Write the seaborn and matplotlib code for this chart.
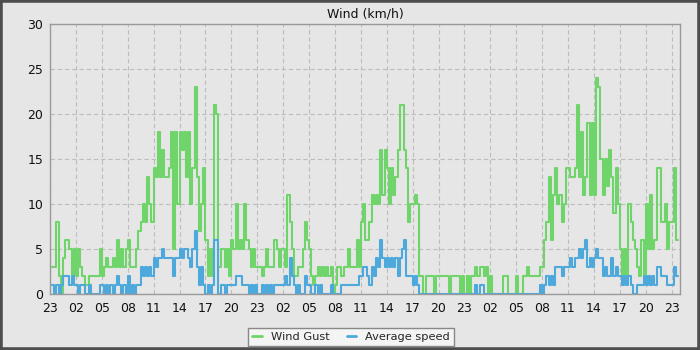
import numpy as np
import pandas as pd
import matplotlib
matplotlib.use("Agg")
import matplotlib.pyplot as plt
import matplotlib.dates as mdates
from matplotlib.ticker import MultipleLocator
from matplotlib.patches import Rectangle
from matplotlib.lines import Line2D
import seaborn as sns

# ---------------- data ----------------
title = "Wind (km/h)"
series_names = ["Wind Gust", "Average speed"]
first_sample = "2024-01-01 23:15"
sample_step = "15min"
axis_start = "2024-01-01 23:00"
axis_end = "2024-01-04 23:58"
y_ticks = [0, 5, 10, 15, 20, 25, 30]

# quarter-hour readings, one row per hour (first row starts 23:15)
wind_gust = [
    3, 3, 8,
    2, 0, 4, 6,   6, 5, 2, 5,   2, 5, 3, 2,   1, 1, 2, 2,   2, 2, 2, 5,
    2, 3, 4, 3,   3, 4, 3, 6,   3, 5, 3, 5,   6, 3, 3, 3,   5, 7, 8, 10,
    8, 13, 10, 8, 14, 13, 18, 13, 16, 13, 13, 14, 18, 5, 18, 10,
    18, 16, 18, 13, 18, 10, 14, 23, 13, 7, 10, 14, 6, 2, 5, 2,
    21, 20, 3, 5, 5, 3, 5, 2,   6, 5, 10, 5,  6, 5, 10, 6,  5, 3, 5, 3,
    3, 3, 2, 3,   5, 3, 3, 3,   6, 5, 3, 5,   5, 3, 11, 8,  5, 2, 2, 3,
    3, 5, 8, 6,   5, 2, 1, 2,   3, 2, 3, 2,   3, 2, 3, 0,   1, 3, 3, 2,
    3, 3, 5, 3,   3, 3, 6, 3,   8, 10, 6, 6,  8, 11, 10, 11,
    10, 16, 11, 16, 14, 10, 14, 11, 13, 16, 21, 21, 16, 14, 8, 10,
    10, 11, 10, 2, 2, 0, 2, 2,  2, 2, 0, 2,   2, 2, 2, 2,   2, 0, 2, 2,
    2, 2, 0, 2,   0, 2, 0, 2,   2, 3, 2, 3,   3, 2, 3, 0,   2, 0, 0, 0,
    0, 0, 2, 2,   0, 0, 0, 0,   2, 0, 0, 2,   2, 3, 2, 2,   2, 2, 2, 3,
    3, 6, 8, 13,  6, 11, 14, 10, 11, 8, 10, 14, 14, 13, 13, 14,
    21, 13, 18, 11, 13, 19, 11, 19, 11, 24, 23, 15, 11, 15, 12, 16,
    13, 9, 14, 10, 5, 2, 5, 2,  10, 8, 6, 5,  3, 2, 6, 2,   10, 5, 11, 5,
    6, 14, 14, 8, 8, 10, 5, 8,
    8, 14, 6,
]

average_speed = [
    1, 0, 1,
    0, 1, 2, 2,   2, 1, 2, 1,   1, 0, 1, 1,   0, 0, 1, 0,   0, 0, 0, 1,
    1, 0, 1, 0,   1, 0, 1, 2,   1, 0, 1, 0,   2, 0, 1, 0,   1, 1, 3, 2,
    3, 2, 3, 2,   4, 3, 4, 4,   5, 4, 4, 4,   4, 2, 4, 4,
    5, 4, 5, 5,   4, 3, 5, 7,   3, 1, 3, 1,   0, 1, 0, 1,
    6, 6, 0, 1,   1, 0, 1, 1,   1, 1, 2, 2,   2, 1, 1, 1,   0, 1, 0, 1,
    0, 0, 1, 0,   1, 0, 1, 0,   1, 1, 1, 1,   1, 2, 1, 4,   2, 1, 0, 1,
    0, 0, 2, 1,   1, 0, 0, 1,   0, 1, 0, 0,   0, 0, 1, 0,   0, 0, 0, 1,
    1, 1, 1, 1,   1, 1, 1, 2,   2, 3, 3, 2,   1, 3, 2, 4,
    3, 6, 4, 3,   4, 3, 4, 3,   4, 2, 4, 5,   6, 2, 2, 2,
    1, 2, 1, 0,   0, 0, 0, 0,   0, 0, 0, 0,   0, 0, 0, 0,   0, 0, 0, 0,
    0, 0, 0, 0,   0, 0, 0, 0,   0, 1, 0, 1,   1, 0, 0, 0,   0, 0, 0, 0,
    0, 0, 0, 0,   0, 0, 0, 0,   0, 0, 0, 0,   0, 0, 0, 0,   0, 0, 0, 1,
    0, 1, 2, 1,   2, 1, 3, 3,   3, 2, 3, 3,   3, 4, 3, 4,
    4, 5, 4, 5,   6, 3, 4, 3,   4, 5, 4, 4,   2, 3, 2, 2,
    4, 2, 3, 2,   2, 1, 2, 1,   2, 1, 0, 0,   1, 1, 1, 2,   1, 2, 1, 2,
    1, 3, 3, 2,   2, 2, 1, 1,
    1, 3, 2,
]

# ---------------- style ----------------
bg = "#e6e6e6"
green = "#6fd56b"
blue = "#4da8db"
sns.set_style("white")
plt.rcParams["font.family"] = ["DejaVu Sans"]

times = pd.date_range(first_sample, periods=len(wind_gust), freq=sample_step)
step = pd.Timedelta(sample_step)
# close the last step interval
t_ext = times.append(pd.DatetimeIndex([times[-1] + step]))
df_gust = pd.DataFrame({"time": t_ext, "value": wind_gust + [wind_gust[-1]]})
df_avg = pd.DataFrame({"time": t_ext, "value": average_speed + [average_speed[-1]]})

fig = plt.figure(figsize=(7, 3.5), dpi=100)
fig.patch.set_facecolor(bg)
ax = fig.add_axes([50 / 700, 1 - 294.3 / 350, 630 / 700, 270 / 350])
ax.set_facecolor(bg)
ax.set_axisbelow(True)

sns.lineplot(data=df_gust, x="time", y="value", drawstyle="steps-post",
             color=green, linewidth=1.5, errorbar=None, legend=False, ax=ax)
sns.lineplot(data=df_avg, x="time", y="value", drawstyle="steps-post",
             color=blue, linewidth=1.5, errorbar=None, legend=False, ax=ax)

ax.set_xlim(pd.Timestamp(axis_start), pd.Timestamp(axis_end))
ax.set_ylim(y_ticks[0], y_ticks[-1])
ax.set_yticks(y_ticks)
ax.yaxis.set_minor_locator(MultipleLocator(1))
ax.xaxis.set_major_locator(mdates.HourLocator(byhour=range(2, 24, 3)))
ax.xaxis.set_minor_locator(mdates.HourLocator())
ax.xaxis.set_major_formatter(mdates.DateFormatter("%H"))
ax.set_xlabel("")
ax.set_ylabel("")

ax.grid(True, which="major", color="#bdbdbd", linestyle=(0, (4, 2.5)), linewidth=0.8)
ax.grid(False, which="minor")
for s in ax.spines.values():
    s.set_color("#9a9a9a")
    s.set_linewidth(1.0)

ax.tick_params(axis="both", which="both", direction="out", color="#333333",
               labelcolor="#111111", labelsize=9, top=False, right=False)
ax.tick_params(axis="y", which="major", length=3, pad=2)
ax.tick_params(axis="y", which="minor", length=2)
ax.tick_params(axis="x", which="both", length=3.5, pad=2)

ax.set_title(title, fontsize=9, pad=5, color="#111111")

handles = [Line2D([], [], color=green, linewidth=2),
           Line2D([], [], color=blue, linewidth=2)]
leg = fig.legend(handles, series_names, loc="center",
                 bbox_to_anchor=(351 / 700, 1 - 337 / 350), ncol=2,
                 frameon=True, fancybox=False, edgecolor="#888888",
                 facecolor="#f4f4f4", framealpha=1, fontsize=8.2,
                 handlelength=0.85, handletextpad=0.8, columnspacing=1.5,
                 borderpad=0.35)
leg.get_frame().set_linewidth(1.0)

fig.add_artist(Rectangle((0, 0), 1, 1, transform=fig.transFigure, fill=False,
                         edgecolor="#4d4d4d", linewidth=4, zorder=10))

fig.savefig("out.png", dpi=100, facecolor=fig.get_facecolor())
